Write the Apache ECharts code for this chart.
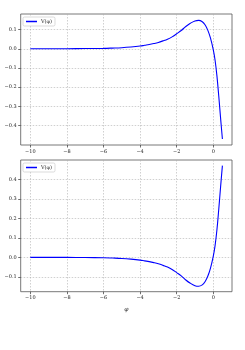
<!DOCTYPE html>
<html><head><meta charset="utf-8">
<script src="https://cdn.jsdelivr.net/npm/echarts@6/dist/echarts.min.js"></script>
<style>html,body{margin:0;padding:0;background:#fff}#c{width:245px;height:350px}</style>
</head><body><div id="c"></div>
<script>
const phi = [-10, -9, -8, -7, -6, -5.5, -5, -4.5, -4, -3.75, -3.5, -3.25, -3, -2.75, -2.5, -2.25, -2, -1.75, -1.5, -1.25, -1.0, -0.8, -0.6, -0.45, -0.3, -0.15, 0, 0.1, 0.2, 0.3, 0.4, 0.5];
const vTop = [0, 0, 0.0003, 0.001, 0.002, 0.0035, 0.0055, 0.009, 0.014, 0.018, 0.022, 0.027, 0.033, 0.041, 0.05, 0.062, 0.078, 0.095, 0.116, 0.133, 0.145, 0.148, 0.141, 0.125, 0.097, 0.055, -0.005, -0.06, -0.14, -0.245, -0.36, -0.47];
const vBottom = [0, 0, -0.0003, -0.001, -0.002, -0.0035, -0.0055, -0.009, -0.014, -0.018, -0.022, -0.027, -0.033, -0.041, -0.05, -0.062, -0.078, -0.095, -0.116, -0.133, -0.145, -0.148, -0.141, -0.125, -0.097, -0.055, 0.005, 0.06, 0.14, 0.245, 0.36, 0.47];
const xTicks = [-10, -8, -6, -4, -2, 0];
const yTicksTop = [-0.4, -0.3, -0.2, -0.1, 0.0, 0.1];
const yTicksBottom = [-0.1, 0.0, 0.1, 0.2, 0.3, 0.4];
const legendLabel = 'V(φ)';
const xLabel = 'φ';

const font = 'DejaVu Serif';
const fmtX = v => String(Math.round(v)).replace('-', '\u2212');
const fmtY = v => v.toFixed(1).replace('-', '\u2212');
const pair = (xs, ys) => xs.map((x, i) => [x, ys[i]]);

function xAxis(gi, name) {
  return {
    type: 'value', gridIndex: gi, min: -10.525, max: 1.025,
    name: name, nameLocation: 'middle', nameGap: 15,
    nameTextStyle: {fontFamily: font, fontSize: 6, fontStyle: 'italic', color: '#222'},
    axisLine: {show: false, onZero: false},
    axisTick: {show: true, length: 2.5, inside: false, customValues: xTicks, lineStyle: {color: '#333', width: 0.7}},
    axisLabel: {customValues: xTicks, formatter: fmtX, fontFamily: font, fontSize: 5, color: '#222', margin: 4},
    splitLine: {show: true, lineStyle: {color: '#b0b0b0', type: [1.5, 1.5], width: 0.6}}
  };
}
function yAxis(gi, mn, mx, ticks) {
  return {
    type: 'value', gridIndex: gi, min: mn, max: mx,
    axisLine: {show: false, onZero: false},
    axisTick: {show: true, length: 2.5, customValues: ticks, lineStyle: {color: '#333', width: 0.7}},
    axisLabel: {customValues: ticks, formatter: fmtY, fontFamily: font, fontSize: 5, color: '#222', margin: 4},
    splitLine: {show: true, lineStyle: {color: '#b0b0b0', type: [1.5, 1.5], width: 0.6}}
  };
}
function legend(top, name) {
  return {
    data: [name], left: 23, top: top, orient: 'vertical',
    backgroundColor: '#fff', borderColor: '#cccccc', borderWidth: 0.7, borderRadius: 1.5,
    padding: [2, 3, 2, 3], itemWidth: 11, itemHeight: 1.5, itemGap: 2,
    icon: 'rect',
    formatter: () => legendLabel,
    textStyle: {fontFamily: font, fontSize: 5, color: '#222', padding: [0, 0, 0, -1]}
  };
}
const chart = echarts.init(document.getElementById('c'), null, {renderer: 'canvas'});
chart.setOption({
  animation: false,
  grid: [
    {left: 20.7, top: 14, width: 211.3, height: 131, show: true, borderColor: '#555', borderWidth: 0.8, containLabel: false},
    {left: 20.7, top: 160, width: 211.3, height: 131.7, show: true, borderColor: '#555', borderWidth: 0.8, containLabel: false}
  ],
  legend: [legend(17, 'top'), legend(163, 'bottom')],
  xAxis: [xAxis(0, ''), xAxis(1, xLabel)],
  yAxis: [yAxis(0, -0.501, 0.181, yTicksTop), yAxis(1, -0.176, 0.499, yTicksBottom)],
  series: [
    {name: 'top', type: 'line', xAxisIndex: 0, yAxisIndex: 0, data: pair(phi, vTop), smooth: 0.4, showSymbol: false, lineStyle: {color: '#0000ff', width: 1.1}, itemStyle: {color: '#0000ff'}},
    {name: 'bottom', type: 'line', xAxisIndex: 1, yAxisIndex: 1, data: pair(phi, vBottom), smooth: 0.4, showSymbol: false, lineStyle: {color: '#0000ff', width: 1.1}, itemStyle: {color: '#0000ff'}}
  ]
});
</script></body></html>
